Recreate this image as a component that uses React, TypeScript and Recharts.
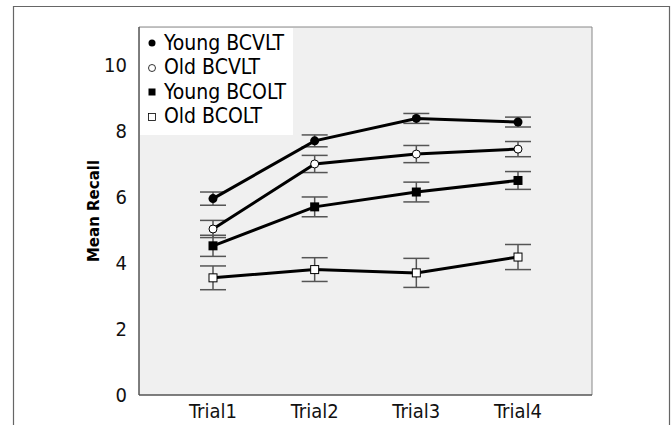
import React from "react";
import {
  ComposedChart,
  Line,
  XAxis,
  YAxis,
  ErrorBar,
  CartesianGrid,
} from "recharts";

// Trials and means
const TRIALS = ["Trial1", "Trial2", "Trial3", "Trial4"];
const YOUNG_BCVLT = [5.95, 7.7, 8.38, 8.27];
const YOUNG_BCVLT_ERR = [0.2, 0.18, 0.15, 0.15];
const OLD_BCVLT = [5.03, 7.0, 7.3, 7.45];
const OLD_BCVLT_ERR = [0.26, 0.26, 0.26, 0.23];
const YOUNG_BCOLT = [4.52, 5.7, 6.15, 6.5];
const YOUNG_BCOLT_ERR = [0.32, 0.3, 0.3, 0.27];
const OLD_BCOLT = [3.55, 3.8, 3.7, 4.18];
const OLD_BCOLT_ERR = [0.36, 0.36, 0.44, 0.38];
const Y_TICKS = [0, 2, 4, 6, 8, 10];
const Y_MAX = 11.15;

const FONT = "'DejaVu Sans Condensed', 'DejaVu Sans', sans-serif";

const data = TRIALS.map((t, i) => ({
  trial: t,
  yv: YOUNG_BCVLT[i],
  yvErr: YOUNG_BCVLT_ERR[i],
  ov: OLD_BCVLT[i],
  ovErr: OLD_BCVLT_ERR[i],
  yo: YOUNG_BCOLT[i],
  yoErr: YOUNG_BCOLT_ERR[i],
  oo: OLD_BCOLT[i],
  ooErr: OLD_BCOLT_ERR[i],
}));

type Shape = "circle" | "openCircle" | "square" | "openSquare";

const SERIES: { key: string; err: string; name: string; shape: Shape }[] = [
  { key: "yv", err: "yvErr", name: "Young BCVLT", shape: "circle" },
  { key: "ov", err: "ovErr", name: "Old BCVLT", shape: "openCircle" },
  { key: "yo", err: "yoErr", name: "Young BCOLT", shape: "square" },
  { key: "oo", err: "ooErr", name: "Old BCOLT", shape: "openSquare" },
];

function marker(shape: Shape, cx: number, cy: number, key?: string | number) {
  if (shape === "circle")
    return <circle key={key} cx={cx} cy={cy} r={4.5} fill="#000" />;
  if (shape === "openCircle")
    return <circle key={key} cx={cx} cy={cy} r={4} fill="#fff" stroke="#000" strokeWidth={1} />;
  if (shape === "square")
    return <rect key={key} x={cx - 4.5} y={cy - 4.5} width={9} height={9} fill="#000" />;
  return (
    <rect key={key} x={cx - 4} y={cy - 4} width={8} height={8} fill="#fff" stroke="#000" strokeWidth={1} />
  );
}

function LegendBox() {
  return (
    <div
      style={{
        position: "absolute",
        left: 140,
        top: 28,
        background: "#fff",
        width: 153,
        height: 107,
        boxSizing: "border-box",
        padding: "3px 0 0 7px",
        fontFamily: FONT,
        fontSize: 21,
        color: "#000",
      }}
    >
      {SERIES.map((s) => (
        <div key={s.key} style={{ display: "flex", alignItems: "center", height: 24.5 }}>
          <svg width={12} height={12} style={{ marginRight: 5 }}>
            {s.shape === "circle" && <circle cx={5} cy={6} r={3.5} fill="#000" />}
            {s.shape === "openCircle" && (
              <circle cx={5} cy={6} r={3.5} fill="#fff" stroke="#000" strokeWidth={0.8} />
            )}
            {s.shape === "square" && <rect x={1.5} y={2.5} width={7} height={7} fill="#000" />}
            {s.shape === "openSquare" && (
              <rect x={1.5} y={2.5} width={7} height={7} fill="#fff" stroke="#000" strokeWidth={0.8} />
            )}
          </svg>
          <span style={{ lineHeight: 1 }}>{s.name}</span>
        </div>
      ))}
    </div>
  );
}

export default function App() {
  return (
    <div style={{ position: "absolute", left: 0, top: 0, width: 672, height: 425, background: "#fff", overflow: "hidden" }}>
      {/* outer figure frame (open at the bottom) */}
      <svg width={672} height={425} style={{ position: "absolute", left: 0, top: 0 }}>
        <path d="M13.5 425 V6.5 H669.5 V425" fill="none" stroke="#666" strokeWidth={1.2} />
      </svg>
      <div style={{ position: "absolute", left: 0, top: 0 }}>
        <ComposedChart
          width={672}
          height={425}
          data={data}
          margin={{ top: 27, right: 80, bottom: 0, left: 89 }}
        >
          {/* plot background plus the top / right frame lines */}
          <CartesianGrid
            fill="#f0f0f0"
            stroke="#888"
            strokeWidth={1}
            horizontalCoordinatesGenerator={({ offset }: any) => [offset.top]}
            verticalCoordinatesGenerator={({ offset }: any) => [offset.left + offset.width]}
          />
          <XAxis
            dataKey="trial"
            type="category"
            scale="point"
            padding={{ left: 74, right: 74 }}
            height={30}
            tickLine={false}
            axisLine={{ stroke: "#555", strokeWidth: 1.5 }}
            tick={{ fontSize: 20, fill: "#111", fontFamily: FONT }}
            tickMargin={3}
          />
          <YAxis
            domain={[0, Y_MAX]}
            ticks={Y_TICKS}
            width={50}
            tickLine={false}
            axisLine={{ stroke: "#555", strokeWidth: 1.5 }}
            tick={{ fontSize: 20, fill: "#111", fontFamily: FONT }}
            tickMargin={6}
            label={{
              value: "Mean Recall",
              angle: -90,
              position: "insideLeft",
              offset: 5,
              style: { fontFamily: "'DejaVu Sans', sans-serif", fontWeight: "bold", fontSize: 15, fill: "#000", textAnchor: "middle" },
            }}
          />
          {SERIES.map((s) => (
            <Line
              key={s.key}
              dataKey={s.key}
              name={s.name}
              stroke="#000"
              strokeWidth={3}
              isAnimationActive={false}
              dot={(p: any) => marker(s.shape, p.cx, p.cy, p.index)}
              activeDot={false}
            >
              <ErrorBar dataKey={s.err} width={13} stroke="#555" strokeWidth={1.5} direction="y" />
            </Line>
          ))}
        </ComposedChart>
      </div>
      <LegendBox />
    </div>
  );
}
